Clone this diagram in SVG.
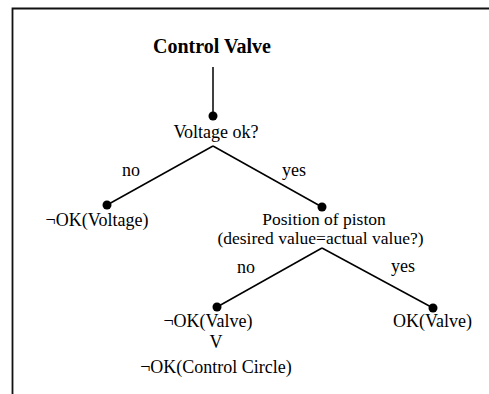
<svg xmlns="http://www.w3.org/2000/svg" width="489" height="394" viewBox="0 0 489 394">
<style>
text{font-family:"Liberation Serif","Times New Roman",serif;font-size:18px;fill:#000;text-anchor:middle}
.t{font-weight:bold;font-size:20px}
.s{font-size:17.5px}
.e{stroke:#000;stroke-width:1.5;fill:none}
.d{fill:#000}
</style>
<rect width="489" height="394" fill="#fff"/>
<path d="M12.5,394 V8.5 H489" fill="none" stroke="#111" stroke-width="1.8"/>
<g id="connectors">
<line class="e" x1="213" y1="67" x2="213" y2="116"/>
<line class="e" x1="213" y1="146" x2="107" y2="205"/>
<line class="e" x1="213" y1="146" x2="322" y2="207"/>
<line class="e" x1="322" y1="248" x2="217" y2="307"/>
<line class="e" x1="322" y1="248" x2="433" y2="308"/>
<text x="131" y="176">no</text>
<text x="294" y="176">yes</text>
<text x="246" y="273">no</text>
<text x="403" y="272">yes</text>
</g>
<g id="root"><text class="t" x="212" y="53">Control Valve</text></g>
<g id="voltage"><circle class="d" cx="213" cy="116" r="4.5"/><text x="216" y="138">Voltage ok?</text></g>
<g id="notok-voltage"><circle class="d" cx="107" cy="205" r="4.5"/><text x="97" y="226">¬OK(Voltage)</text></g>
<g id="piston"><circle class="d" cx="322" cy="207" r="4.5"/><text class="s" x="324" y="225">Position of piston</text><text class="s" x="320.5" y="244">(desired value=actual value?)</text></g>
<g id="notok-valve"><circle class="d" cx="217" cy="307" r="4.5"/><text x="208" y="327">¬OK(Valve)</text><text x="216" y="348">V</text><text x="216" y="373">¬OK(Control Circle)</text></g>
<g id="ok-valve"><circle class="d" cx="433" cy="308" r="4.5"/><text x="432.5" y="327">OK(Valve)</text></g>
</svg>
